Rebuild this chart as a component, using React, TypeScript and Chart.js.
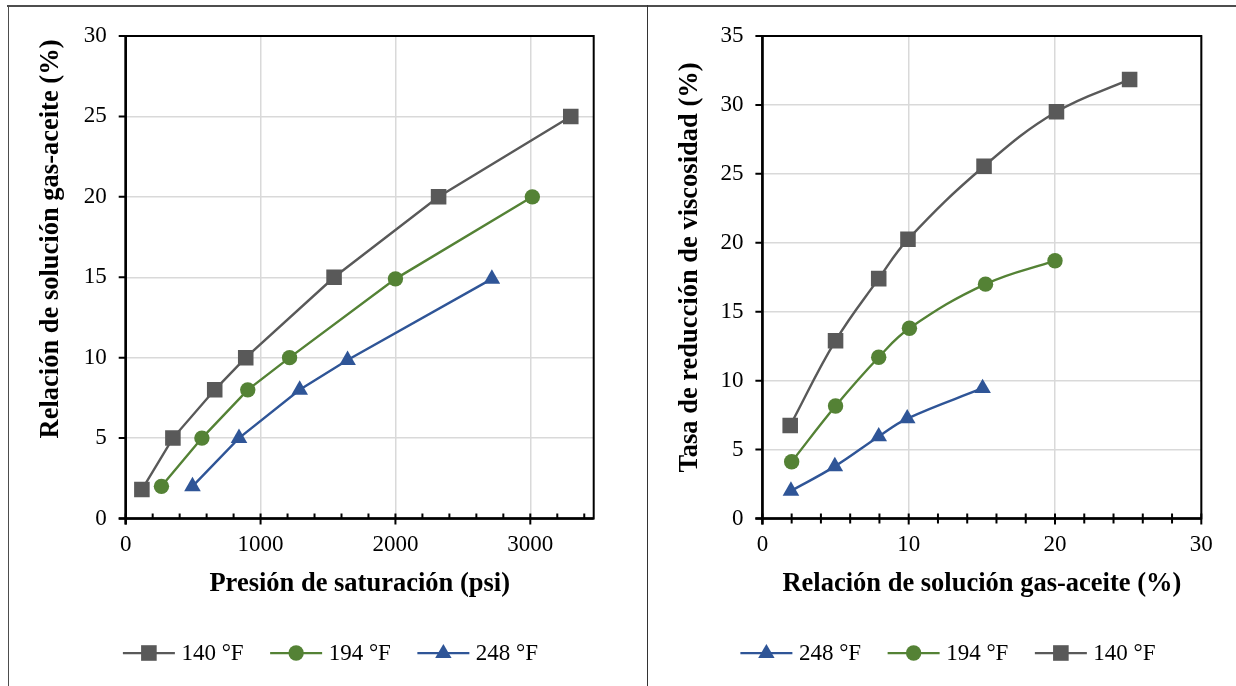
import React, { useEffect, useRef } from "react";
import { Chart, registerables } from "chart.js";

Chart.register(...registerables);

const FONT = "'Liberation Serif', 'Times New Roman', serif";

// ---------- Left chart data (Presión de saturación vs Relación gas-aceite) ----------
const leftX140 = [120, 350, 660, 890, 1545, 2320, 3300];
const leftY140 = [1.8, 5, 8, 10, 15, 20, 25];
const leftX194 = [265, 565, 905, 1215, 2000, 3015];
const leftY194 = [2, 5, 8, 10, 14.9, 20];
const leftX248 = [495, 840, 1290, 1645, 2715];
const leftY248 = [2, 5, 8, 9.85, 14.9];

// ---------- Right chart data (Relación gas-aceite vs Tasa de reducción de viscosidad) ----------
const rightX140 = [1.9, 5.0, 7.95, 9.95, 15.15, 20.1, 25.1];
const rightY140 = [6.75, 12.9, 17.4, 20.25, 25.55, 29.5, 31.85];
const rightX194 = [2.0, 5.0, 7.95, 10.05, 15.25, 20];
const rightY194 = [4.12, 8.16, 11.7, 13.8, 17.0, 18.7];
const rightX248 = [1.95, 4.95, 7.95, 9.9, 15.05];
const rightY248 = [2.0, 3.78, 5.95, 7.25, 9.45];

const labels = { t140: "140 °F", t194: "194 °F", t248: "248 °F" };

const leftXTicks = [0, 200, 400, 600, 800, 1000, 1200, 1400, 1600, 1800, 2000, 2200, 2400, 2600, 2800, 3000, 3200, 3400];
const rightXTicks = [0, 2, 4, 6, 8, 10, 12, 14, 16, 18, 20, 22, 24, 26, 28, 30];

const GRAY = "#595959";
const GREEN = "#548235";
const BLUE = "#2F5597";
const GRID = "#d9d9d9";

type Style = "rect" | "circle" | "triangle";
type Series = { label: string; xs: number[]; ys: number[]; color: string; style: Style };

const RADIUS: Record<Style, number> = { rect: 11, circle: 7.7, triangle: 9.6 };

function pts(xs: number[], ys: number[]) {
  return xs.map((x, i) => ({ x, y: ys[i] }));
}

function drawMarker(ctx: CanvasRenderingContext2D, style: Style, x: number, y: number, color: string) {
  ctx.fillStyle = color;
  ctx.beginPath();
  if (style === "rect") {
    ctx.rect(x - 7.8, y - 7.8, 15.6, 15.6);
  } else if (style === "circle") {
    ctx.arc(x, y, 7.7, 0, Math.PI * 2);
  } else {
    ctx.moveTo(x, y - 9);
    ctx.lineTo(x + 8.2, y + 5);
    ctx.lineTo(x - 8.2, y + 5);
    ctx.closePath();
  }
  ctx.fill();
}

type DecorOpts = {
  xTitle: string;
  yTitle: string;
  yTitleX: number;
  yTitleY: number;
  xTitleY: number;
  legendCenter: number;
  legendY: number;
  series: Series[];
  majorStep: number;
  minorCross: boolean;
};

function decorPlugin(o: DecorOpts) {
  return {
    id: "decor",
    afterDraw(chart: any) {
      const ctx: CanvasRenderingContext2D = chart.ctx;
      const a = chart.chartArea;
      const xs = chart.scales.x;
      const ys = chart.scales.y;
      ctx.save();
      // plot border
      ctx.strokeStyle = "#000";
      ctx.lineWidth = 2;
      ctx.strokeRect(a.left, a.top, a.right - a.left, a.bottom - a.top);
      ctx.lineWidth = 2.5;
      ctx.beginPath();
      ctx.moveTo(a.left - 7, a.bottom);
      ctx.lineTo(a.right, a.bottom);
      ctx.moveTo(a.left, a.top);
      ctx.lineTo(a.left, a.bottom + 6);
      ctx.stroke();
      // x tick marks
      ctx.lineWidth = 2;
      ctx.beginPath();
      for (const t of xs.ticks) {
        const px = xs.getPixelForValue(t.value);
        const major = Math.abs(t.value % o.majorStep) < 1e-9;
        if (major) {
          ctx.moveTo(px, a.bottom - 5);
          ctx.lineTo(px, a.bottom + 6);
        } else if (o.minorCross) {
          ctx.moveTo(px, a.bottom - 5);
          ctx.lineTo(px, a.bottom + 5);
        } else {
          ctx.moveTo(px, a.bottom - 5);
          ctx.lineTo(px, a.bottom);
        }
      }
      // y tick marks
      for (const t of ys.ticks) {
        const py = ys.getPixelForValue(t.value);
        ctx.moveTo(a.left - 7, py);
        ctx.lineTo(a.left, py);
      }
      ctx.stroke();

      // axis titles
      ctx.fillStyle = "#000";
      ctx.font = `bold 26.5px ${FONT}`;
      ctx.textAlign = "center";
      ctx.textBaseline = "middle";
      ctx.fillText(o.xTitle, (a.left + a.right) / 2, o.xTitleY);
      ctx.save();
      ctx.translate(o.yTitleX, o.yTitleY);
      ctx.rotate(-Math.PI / 2);
      ctx.fillText(o.yTitle, 0, 0);
      ctx.restore();

      // legend
      ctx.font = `23px ${FONT}`;
      const lineW = 52;
      const gapText = 6.5;
      const gapItem = 26.5;
      const widths = o.series.map((s) => lineW + gapText + ctx.measureText(s.label).width);
      const total = widths.reduce((p, c) => p + c, 0) + gapItem * (o.series.length - 1);
      let x = o.legendCenter - total / 2;
      o.series.forEach((s, i) => {
        ctx.strokeStyle = s.color;
        ctx.lineWidth = 2.25;
        ctx.beginPath();
        ctx.moveTo(x, o.legendY);
        ctx.lineTo(x + lineW, o.legendY);
        ctx.stroke();
        drawMarker(ctx, s.style, x + lineW / 2, o.legendY, s.color);
        ctx.fillStyle = "#000";
        ctx.textAlign = "left";
        ctx.textBaseline = "middle";
        ctx.fillText(s.label, x + lineW + gapText, o.legendY + 1);
        x += widths[i] + gapItem;
      });
      ctx.restore();
    },
  };
}

type PanelCfg = {
  width: number;
  height: number;
  left: number;
  top: number;
  right: number;
  bottom: number;
  series: Series[];
  xMax: number;
  yMax: number;
  xTicks: number[];
  majorStep: number;
  tension: number;
  decor: Omit<DecorOpts, "series" | "majorStep" | "minorCross">;
  minorCross: boolean;
};

function makeChart(canvas: HTMLCanvasElement, c: PanelCfg) {
  const tickFont = { family: FONT, size: 23 };
  return new Chart(canvas, {
    type: "scatter",
    data: {
      datasets: c.series.map((s) => ({
        label: s.label,
        data: pts(s.xs, s.ys),
        showLine: true,
        borderColor: s.color,
        backgroundColor: s.color,
        borderWidth: 2.4,
        tension: c.tension,
        pointStyle: s.style,
        pointRadius: RADIUS[s.style],
        pointBorderWidth: 0,
        pointBackgroundColor: s.color,
        pointBorderColor: s.color,
      })),
    },
    options: {
      animation: false,
      responsive: false,
      devicePixelRatio: 1,
      layout: {
        padding: { left: 0, top: c.top, right: c.width - c.right, bottom: 0 },
      },
      plugins: { legend: { display: false }, tooltip: { enabled: false } },
      scales: {
        x: {
          type: "linear",
          min: 0,
          max: c.xMax,
          afterBuildTicks: (scale: any) => {
            scale.ticks = c.xTicks.map((v) => ({ value: v }));
          },
          afterFit: (scale: any) => {
            scale.height = c.height - c.bottom;
            scale.paddingLeft = 0;
            scale.paddingRight = 0;
            scale.paddingTop = 0;
            scale.paddingBottom = 0;
          },
          ticks: {
            autoSkip: false,
            maxRotation: 0,
            padding: 13,
            color: "#000",
            font: tickFont,
            callback: (v: any) => (Math.abs(Number(v) % c.majorStep) < 1e-9 ? String(v) : ""),
          },
          grid: {
            drawTicks: false,
            lineWidth: 1.5,
            color: (ctx: any) =>
              ctx.tick && Math.abs(ctx.tick.value % c.majorStep) < 1e-9 ? GRID : "rgba(0,0,0,0)",
          },
          border: { display: false },
        },
        y: {
          type: "linear",
          min: 0,
          max: c.yMax,
          afterFit: (scale: any) => {
            scale.width = c.left;
            scale.paddingLeft = 0;
            scale.paddingRight = 0;
            scale.paddingTop = 0;
            scale.paddingBottom = 0;
          },
          ticks: { stepSize: 5, padding: 19, color: "#000", font: tickFont },
          grid: { drawTicks: false, lineWidth: 1.5, color: GRID },
          border: { display: false },
        },
      },
    },
    plugins: [decorPlugin({ ...c.decor, series: c.series, majorStep: c.majorStep, minorCross: c.minorCross })],
  } as any);
}

function Panel({ cfg, x }: { cfg: PanelCfg; x: number }) {
  const ref = useRef<HTMLCanvasElement | null>(null);
  useEffect(() => {
    if (!ref.current) return;
    const ch = makeChart(ref.current, cfg);
    return () => ch.destroy();
  }, []);
  return (
    <canvas
      ref={ref}
      width={cfg.width}
      height={cfg.height}
      style={{ position: "absolute", left: x, top: 7, width: cfg.width, height: cfg.height, display: "block" }}
    />
  );
}

const leftSeries: Series[] = [
  { label: labels.t140, xs: leftX140, ys: leftY140, color: GRAY, style: "rect" },
  { label: labels.t194, xs: leftX194, ys: leftY194, color: GREEN, style: "circle" },
  { label: labels.t248, xs: leftX248, ys: leftY248, color: BLUE, style: "triangle" },
];

const rightSeries: Series[] = [
  { label: labels.t248, xs: rightX248, ys: rightY248, color: BLUE, style: "triangle" },
  { label: labels.t194, xs: rightX194, ys: rightY194, color: GREEN, style: "circle" },
  { label: labels.t140, xs: rightX140, ys: rightY140, color: GRAY, style: "rect" },
];

// canvas offsets: left panel canvas at x=9, right at x=648, both top=7
const leftCfg: PanelCfg = {
  width: 637,
  height: 679,
  left: 125.7 - 9,
  top: 36 - 7,
  right: 593.7 - 9,
  bottom: 518.5 - 7,
  series: leftSeries,
  xMax: 3470,
  yMax: 30,
  xTicks: leftXTicks,
  majorStep: 1000,
  tension: 0,
  minorCross: false,
  decor: {
    xTitle: "Presión de saturación (psi)",
    yTitle: "Relación de solución gas-aceite (%)",
    yTitleX: 51 - 9,
    yTitleY: 239 - 7,
    xTitleY: 584 - 7,
    legendCenter: 330.5 - 9,
    legendY: 653 - 7,
  },
};

const rightCfg: PanelCfg = {
  width: 588,
  height: 679,
  left: 762.4 - 648,
  top: 36 - 7,
  right: 1201.3 - 648,
  bottom: 518.5 - 7,
  series: rightSeries,
  xMax: 30,
  yMax: 35,
  xTicks: rightXTicks,
  majorStep: 10,
  tension: 0.4,
  minorCross: true,
  decor: {
    xTitle: "Relación de solución gas-aceite (%)",
    yTitle: "Tasa de reducción de viscosidad (%)",
    yTitleX: 690 - 648,
    yTitleY: 267.5 - 7,
    xTitleY: 584 - 7,
    legendCenter: 948 - 648,
    legendY: 653 - 7,
  },
};

export default function App() {
  return (
    <div
      style={{
        position: "absolute",
        left: 0,
        top: 0,
        width: 1236,
        height: 686,
        background: "#fff",
        overflow: "hidden",
      }}
    >
      <div style={{ position: "absolute", left: 7, top: 5, width: 1229, height: 1.5, background: "#4d4d4d" }} />
      <div style={{ position: "absolute", left: 7.5, top: 5, width: 1.2, height: 681, background: "#4d4d4d" }} />
      <div style={{ position: "absolute", left: 646.5, top: 5, width: 1.8, height: 681, background: "#333" }} />
      <Panel cfg={leftCfg} x={9} />
      <Panel cfg={rightCfg} x={648} />
    </div>
  );
}
